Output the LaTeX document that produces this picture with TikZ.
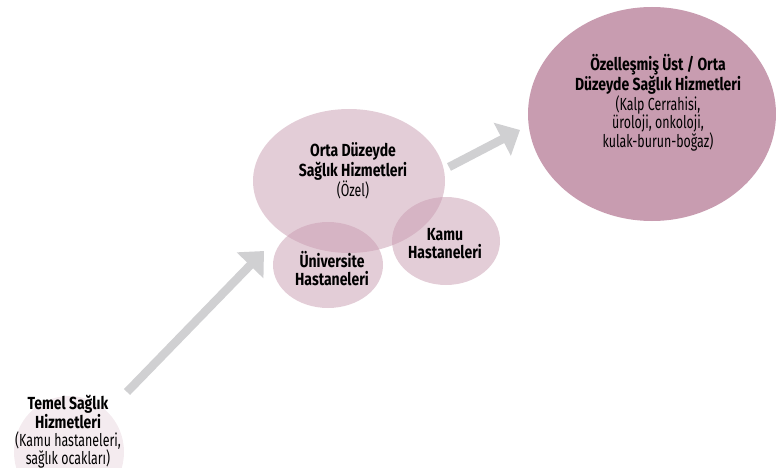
\documentclass[tikz,border=0pt]{standalone}
\usepackage{fontspec}
\setmainfont{Fira Sans}[UprightFeatures={FakeStretch=0.71},BoldFeatures={FakeStretch=0.8}]
\usetikzlibrary{arrows.meta,shapes.geometric}
\definecolor{mauve}{RGB}{200,156,176}
\definecolor{arrowgray}{RGB}{208,208,210}
\begin{document}
\begin{tikzpicture}[x=1pt,y=-1pt,
  bubble/.style={ellipse, fill=mauve, inner sep=0pt},
  txt/.style={align=center, font=\fontsize{17.5}{18}\selectfont, text=black, inner sep=0pt},
  flow/.style={draw=arrowgray, line width=8.5pt, -{Triangle[length=20pt,width=36pt]}}]
  \useasboundingbox (0,0) rectangle (776,468);

  % bubbles
  \node[bubble, fill opacity=0.2, minimum width=110pt, minimum height=112pt] (temel) at (69,452) {};
  \node[bubble, fill opacity=0.5, minimum width=192pt, minimum height=144pt] (orta) at (349,181) {};
  \node[bubble, fill opacity=0.5, minimum width=110pt, minimum height=86pt] (univ) at (328,265) {};
  \node[bubble, fill opacity=0.5, minimum width=108pt, minimum height=88pt] (kamu) at (446,241) {};
  \node[bubble, minimum width=248pt, minimum height=214pt] (ozel) at (652,114) {};

  % labels
  \node[txt] (temelT) at (68,432) {\textbf{Temel Sağlık}\\\textbf{Hizmetleri}\\(Kamu hastaneleri,\\sağlık ocakları)};
  \node[txt] (ortaT) at (353,171) {\textbf{Orta Düzeyde}\\\textbf{Sağlık Hizmetleri}\\(Özel)};
  \node[txt] (univT) at (332,269) {\textbf{Üniversite}\\\textbf{Hastaneleri}};
  \node[txt] (kamuT) at (445,244) {\textbf{Kamu}\\\textbf{Hastaneleri}};
  \node[txt] (ozelT) at (658,103) {\textbf{Özelleşmiş Üst / Orta}\\\textbf{Düzeyde Sağlık Hizmetleri}\\(Kalp Cerrahisi,\\üroloji, onkoloji,\\kulak-burun-boğaz)};

  % arrows
  \coordinate (a1s) at (127,392);
  \coordinate (a1e) at (264,251);
  \coordinate (a2s) at (449,167);
  \coordinate (a2e) at (520,130);
  \draw[flow] (a1s) -- (a1e);
  \draw[flow] (a2s) -- (a2e);
\end{tikzpicture}
\end{document}
